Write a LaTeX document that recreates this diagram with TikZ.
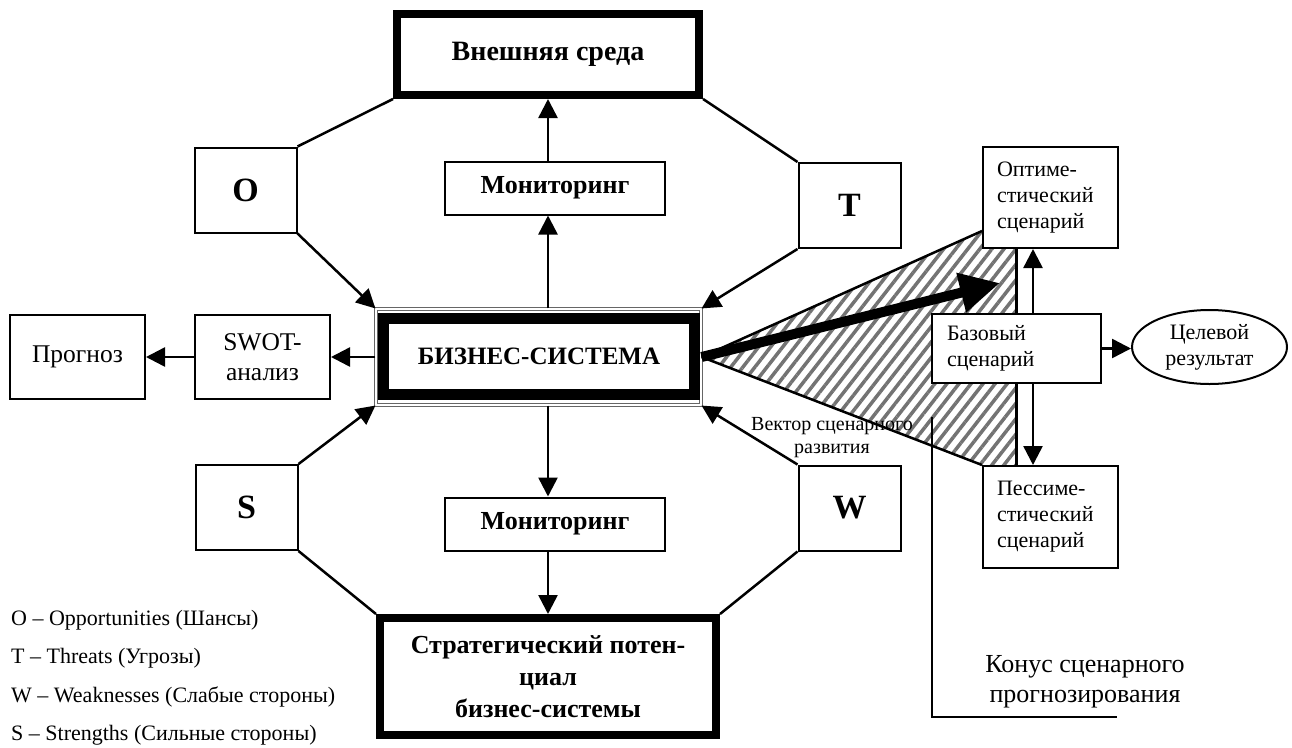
\documentclass[tikz,border=0pt]{standalone}
\usepackage{fontspec}
\setmainfont{Liberation Serif}
\usetikzlibrary{arrows.meta,patterns.meta,backgrounds,shapes.geometric}

\tikzset{
  plainbox/.style={draw, line width=2pt, fill=white, inner sep=0pt, align=center},
  heavybox/.style={draw, line width=8pt, fill=white, inner sep=0pt, align=center},
  letterbox/.style={plainbox, minimum width=102pt, minimum height=85pt,
    font=\fontsize{34}{40}\selectfont\bfseries},
  monbox/.style={plainbox, minimum width=220pt, minimum height=53pt,
    font=\fontsize{26}{30}\selectfont\bfseries},
  scenbox/.style={plainbox, align=left, text width=107pt, inner xsep=14pt,
    font=\fontsize{22}{26}\selectfont},
  arr/.style={line width=2.5pt, -{Triangle[length=19pt,width=19pt]}},
  side/.style={line width=2.5pt},
}

\begin{document}
\begin{tikzpicture}[x=1pt,y=-1pt]
  \useasboundingbox (0,0) rectangle (1292,747);

  \node[heavybox, minimum width=302pt, minimum height=81pt,
    font=\fontsize{28}{32}\selectfont\bfseries] (env) at (548,54.5) {Внешняя среда};
  \node[monbox] (mon1) at (555,188) {Мониторинг};
  \node[letterbox] (o) at (245.5,190) {O};
  \node[letterbox] (t) at (849.5,205.5) {T};

  \node[draw=black!60, double, line width=1.1pt, double distance=1.5pt,
    minimum width=325pt, minimum height=96pt] (bsf) at (538.5,357) {};
  \node[draw, line width=11pt, fill=white, minimum width=311pt, minimum height=76pt,
    font=\fontsize{25}{29}\selectfont\bfseries] (bs) at (539,356.5) {БИЗНЕС-СИСТЕМА};

  \node[plainbox, minimum width=135pt, minimum height=84pt,
    font=\fontsize{25.5}{30}\selectfont] (swot) at (262.5,357) {SWOT-\\анализ};
  \node[plainbox, minimum width=135pt, minimum height=84pt,
    font=\fontsize{25.5}{30}\selectfont] (prog) at (77.5,357) {Прогноз};

  \node[letterbox] (s) at (246.5,507.5) {S};
  \node[letterbox] (w) at (849.5,508) {W};
  \node[monbox] (mon2) at (555,524) {Мониторинг};
  \node[heavybox, minimum width=336pt, minimum height=117pt,
    font=\fontsize{26}{32}\selectfont\bfseries] (strat) at (548,676.5)
    {Стратегический потен-\\циал\\бизнес-системы};

  \node[scenbox, minimum height=101pt] (opt) at (1050.5,197.5) {Оптиме-\\стический\\сценарий};
  \node[scenbox, text width=139pt, inner xsep=15pt, minimum height=69pt] (base) at (1016.5,348.5)
    {Базовый\\сценарий};
  \node[scenbox, minimum height=102pt] (pes) at (1050.5,517) {Пессиме-\\стический\\сценарий};
  \node[draw, line width=2pt, ellipse, inner sep=0pt, minimum width=155pt, minimum height=74pt,
    align=center, font=\fontsize{22}{26}\selectfont] (goal) at (1209.5,347) {Целевой\\результат};

  \begin{scope}[on background layer]
    \fill[pattern={Lines[angle=52,distance=9.5pt,line width=3.5pt]}, pattern color=black!55]
      (bsf.east) -- ([yshift=18pt]opt.south west) -- (opt.south west) -- (opt.south -| base)
      -- (pes.north -| base) -- (pes.north west) -- cycle;
  \end{scope}
  \draw[side] (bsf.east) -- ([yshift=18pt]opt.south west);
  \draw[side] (bsf.east) -- (pes.north west);

  \draw[side] (env.south west) -- (o.north east);
  \draw[side] (env.south east) -- (t.north west);
  \draw[side] (s.south east) -- (strat.north west);
  \draw[side] (w.south west) -- (strat.north east);
  \draw[arr] (o.south east) -- (bsf.north west);
  \draw[arr] (t.south west) -- (bsf.north east);
  \draw[arr] (s.north east) -- (bsf.south west);
  \draw[arr] (w.north west) -- (bsf.south east);

  \draw[arr] (bsf.north -| env.south) -- (mon1.south -| env.south);
  \draw[arr] (mon1.north -| env.south) -- (env.south);
  \draw[arr] (bsf.south -| env.south) -- (mon2.north -| env.south);
  \draw[arr] (mon2.south -| env.south) -- (strat.north);
  \draw[arr] (bsf.west) -- (swot.east);
  \draw[arr] (swot.west) -- (prog.east);

  \draw[side] (base.north) -- (base.north |- opt.south);
  \draw[side] (base.south) -- (base.south |- pes.north);
  \draw[arr] ([xshift=16.5pt]base.north) -- ([xshift=16.5pt]base.north |- opt.south);
  \draw[arr] ([xshift=16.5pt]base.south) -- ([xshift=16.5pt]base.south |- pes.north);
  \draw[arr] (base.east) -- (base.east -| goal.west);

  \coordinate (vec) at (1000,283);
  \draw[line width=10pt, -{Triangle[length=40pt,width=38pt]}] (bsf.east) -- (vec);

  \node[font=\fontsize{20}{23}\selectfont, align=center] (veclbl) at (832,438)
    {Вектор сценарного\\развития};

  \coordinate (ktop) at (932,417);
  \coordinate (kend) at (1117,717);
  \draw[side] (ktop) |- (kend);
  \node[font=\fontsize{26}{30}\selectfont, align=center] (cone) at (1085,682)
    {Конус сценарного\\прогнозирования};

  \node[anchor=west, inner sep=0pt, font=\fontsize{22}{25}\selectfont] (lo) at (11,620)
    {O – Opportunities (Шансы)};
  \node[anchor=west, inner sep=0pt, font=\fontsize{22}{25}\selectfont] (lt) at (11,658)
    {T – Threats (Угрозы)};
  \node[anchor=west, inner sep=0pt, font=\fontsize{22}{25}\selectfont] (lw) at (11,697)
    {W – Weaknesses (Слабые стороны)};
  \node[anchor=west, inner sep=0pt, font=\fontsize{22}{25}\selectfont] (ls) at (11,735)
    {S – Strengths (Сильные стороны)};
\end{tikzpicture}
\end{document}
